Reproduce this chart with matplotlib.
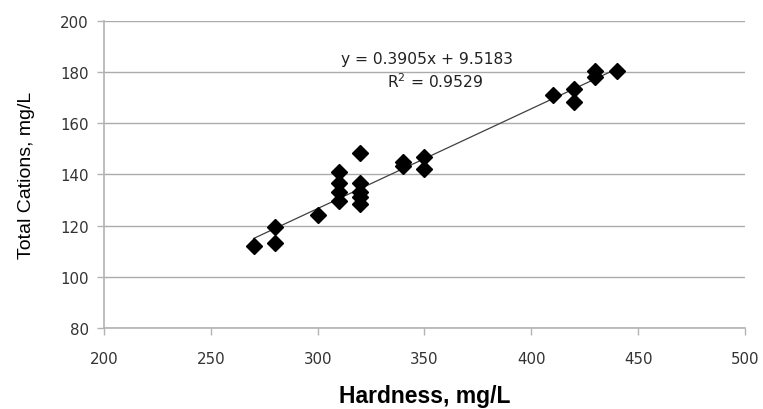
import matplotlib.pyplot as plt
import numpy as np

# Hardness vs total cations (mg/L)
hardness = [270, 280, 280, 300, 310, 310, 310, 310, 320, 320, 320, 320, 320,
            340, 340, 350, 350, 410, 420, 420, 430, 430, 440]
cations = [112, 119.5, 113, 124, 141, 136.5, 133, 129.5, 148.5, 136.5, 133, 131, 128.5,
           145, 143.5, 147, 142, 171, 173.5, 168.5, 180.5, 178, 180.5]

slope = 0.3905
intercept = 9.5183
r2 = 0.9529

fig = plt.figure(figsize=(7.63, 4.10), dpi=100)
ax = fig.add_axes([0.1363, 0.198, 0.8401, 0.748])

ax.set_xlim(200, 500)
ax.set_ylim(80, 200)
ax.set_xticks(np.arange(200, 501, 50))
ax.set_yticks(np.arange(80, 201, 20))

ax.grid(axis='y', color='#ababab', linewidth=1)
ax.set_axisbelow(True)
for side in ['top', 'right']:
    ax.spines[side].set_visible(False)
for side in ['left', 'bottom']:
    ax.spines[side].set_color('#b3b3b3')
    ax.spines[side].set_linewidth(1.2)
ax.tick_params(axis='both', colors='#b3b3b3', length=5, width=1, labelsize=10.8,
               labelcolor='#333333')
ax.tick_params(axis='x', pad=12)
ax.tick_params(axis='y', pad=6)

# linear trendline over the data range
xs = np.array([min(hardness), max(hardness)])
ax.plot(xs, slope * xs + intercept, color='#404040', linewidth=0.9, zorder=2)

ax.plot(hardness, cations, linestyle='none', marker='D', markersize=8.2,
        color='black', zorder=3)

ax.text(351, 185.2, f'y = {slope}x + {intercept}', ha='center', va='center',
        fontsize=11.2, color='#222222')
ax.text(355, 176.6, f'R$^2$ = {r2}', ha='center', va='center',
        fontsize=11.2, color='#222222')

ax.set_xlabel('Hardness, mg/L', fontsize=16.5, fontweight='bold',
              family='Liberation Sans', labelpad=13)
ax.set_ylabel('Total Cations, mg/L', fontsize=14, family='Liberation Sans',
              labelpad=18)

fig.savefig('out.png', dpi=100)
